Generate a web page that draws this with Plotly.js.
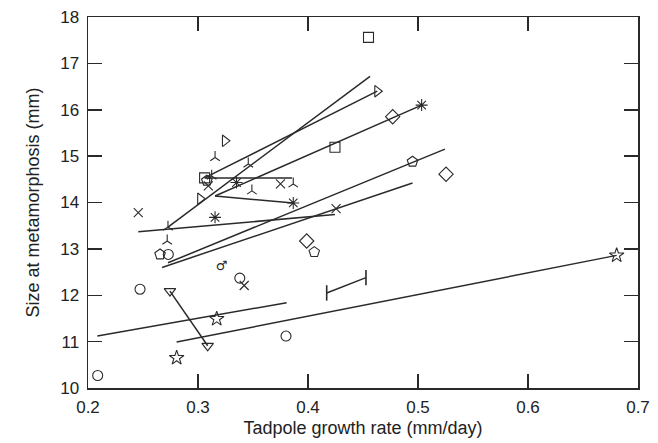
<!DOCTYPE html>
<html><head><meta charset="utf-8">
<script src="https://cdn.plot.ly/plotly-3.0.1.min.js"></script>
<style>body{margin:0;background:#fff}#plot{width:658px;height:443px}</style>
</head><body><div id="plot"></div>
<script>
// Regression line segments (start and end points)
const segX0 = [0.2085, 0.2806, 0.2673, 0.2727, 0.2457, 0.3155, 0.306, 0.3155, 0.2727, 0.306];
const segY0 = [11.12, 10.99, 12.60, 12.70, 13.37, 14.14, 14.53, 14.14, 13.47, 14.53];
const segX1 = [0.3806, 0.6806, 0.495, 0.5245, 0.4245, 0.3866, 0.3855, 0.5033, 0.4564, 0.463];
const segY1 = [11.84, 12.86, 14.42, 15.15, 13.74, 13.99, 14.53, 16.10, 16.72, 16.40];
// Two-population pair joined by a line (triangle-down)
const triDownX = [0.2745, 0.3088];
const triDownY = [12.09, 10.91];
// Range bar
const barX = [0.417, 0.4527];
const barY = [12.05, 12.38];
// Point symbols
const squareX = [0.455, 0.4245, 0.306];
const squareY = [17.56, 15.19, 14.53];
const triRightX = [0.3245, 0.302, 0.463];
const triRightY = [15.33, 14.08, 16.40];
const yUpX = [0.3155, 0.3457, 0.349, 0.272, 0.3124, 0.3866, 0.2727];
const yUpY = [14.97, 14.83, 14.25, 13.17, 14.57, 14.40, 13.47];
const asterX = [0.335, 0.3155, 0.3866, 0.5033];
const asterY = [14.43, 13.68, 13.99, 16.10];
const crossX = [0.2457, 0.3094, 0.375, 0.4255, 0.342];
const crossY = [13.78, 14.36, 14.40, 13.87, 12.21];
const diamondX = [0.477, 0.5255, 0.3988];
const diamondY = [15.85, 14.61, 13.17];
const pentX = [0.495, 0.4057, 0.2655, 0.308];
const pentY = [14.88, 12.93, 12.88, 14.47];
const circleX = [0.2473, 0.2088, 0.38, 0.338, 0.273];
const circleY = [12.13, 10.27, 11.12, 12.37, 12.88];
const starX = [0.317, 0.2806, 0.6806];
const starY = [11.49, 10.65, 12.86];
const maleX = [0.3215];
const maleY = [12.62];

const ink = '#2a2a2a';
const traces = [];
for (let i = 0; i < segX0.length; i++) {
  traces.push({x:[segX0[i], segX1[i]], y:[segY0[i], segY1[i]], mode:'lines',
    line:{color:ink, width:1.5}, hoverinfo:'skip'});
}
traces.push({x:triDownX, y:triDownY, mode:'lines+markers', line:{color:ink,width:1.5},
  marker:{symbol:'triangle-down-open', size:10, color:ink, line:{width:1.2}}});
traces.push({x:barX, y:barY, mode:'lines+markers', line:{color:ink,width:1.5},
  marker:{symbol:'line-ns-open', size:11, color:ink, line:{width:1.6, color:ink}}});
function pts(x, y, sym, size) {
  traces.push({x:x, y:y, mode:'markers',
    marker:{symbol:sym, size:size, color:ink, line:{width:1.1, color:ink}}});
}
pts(squareX, squareY, 'square-open', 10);
pts(triRightX, triRightY, 'triangle-right-open', 10);
pts(yUpX, yUpY, 'y-up-open', 8);
pts(asterX, asterY, 'asterisk-open', 10);
pts(crossX, crossY, 'x-thin-open', 9);
pts(diamondX, diamondY, 'diamond-open', 11);
pts(pentX, pentY, 'pentagon-open', 11);
pts(circleX, circleY, 'circle-open', 10);
pts(starX, starY, 'star-open', 11);
traces.push({x:maleX, y:maleY, mode:'text', text:['♂'], textfont:{size:13, color:ink, family:'DejaVu Sans'}});

const layout = {
  width:658, height:443, showlegend:false,
  margin:{l:88, r:20, t:17, b:55},
  paper_bgcolor:'#fff', plot_bgcolor:'#fff',
  font:{family:'Liberation Sans, Arial, sans-serif', color:'#222'},
  xaxis:{range:[0.2,0.7], dtick:0.1, tickformat:'.1f', ticks:'inside', ticklen:14, tickwidth:1.5,
    tickcolor:ink, showline:true, linecolor:ink, linewidth:1.5, mirror:'ticks', showgrid:false,
    zeroline:false, tickfont:{size:17}, ticklabelstandoff:3,
    title:{text:'Tadpole growth rate (mm/day)', font:{size:18}, standoff:5}},
  yaxis:{range:[10,18], dtick:1, ticks:'inside', ticklen:14, tickwidth:1.5,
    tickcolor:ink, showline:true, linecolor:ink, linewidth:1.5, mirror:'ticks', showgrid:false,
    zeroline:false, tickfont:{size:17}, ticklabelstandoff:4,
    title:{text:'Size at metamorphosis (mm)', font:{size:18}, standoff:16}}
};
Plotly.newPlot('plot', traces, layout, {displayModeBar:false, staticPlot:true});
</script></body></html>
